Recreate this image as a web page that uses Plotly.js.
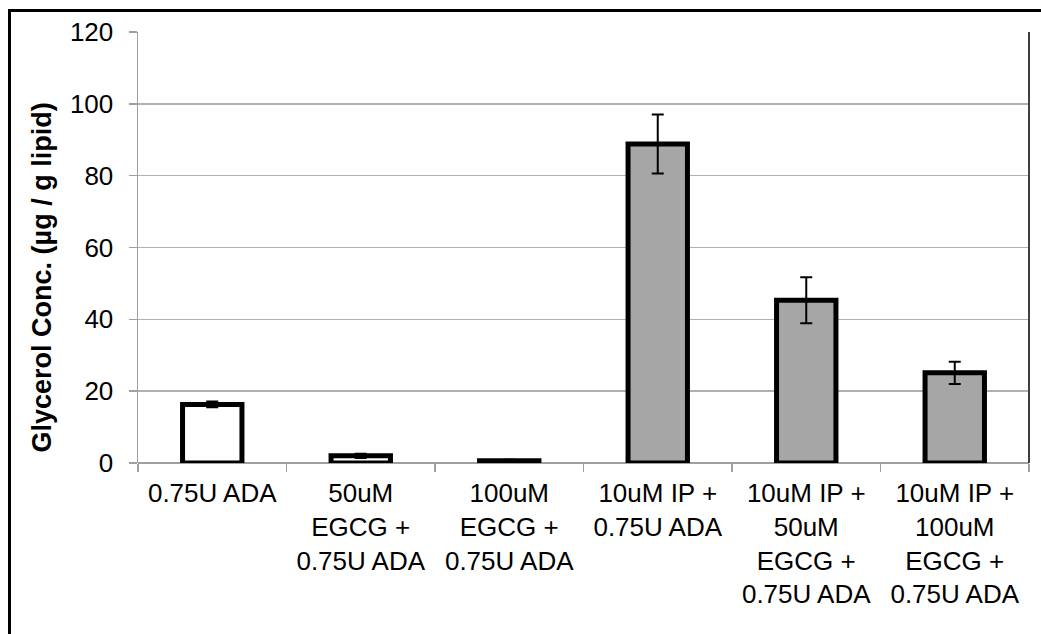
<!DOCTYPE html>
<html>
<head>
<meta charset="utf-8">
<script src="https://cdn.plot.ly/plotly-3.0.1.min.js"></script>
<style>
  html, body { margin: 0; padding: 0; background: #fff; }
  #wrap { position: relative; width: 1041px; height: 634px; overflow: hidden; }
  #chart { width: 1041px; height: 634px; }
  #frame { position: absolute; left: 8px; top: 9px; width: 1100px; height: 700px;
           border-left: 3px solid #000; border-top: 3px solid #000; pointer-events: none; }
</style>
</head>
<body>
<div id="wrap">
  <div id="chart"></div>
  <div id="frame"></div>
</div>
<script>
const categories = [
  "0.75U ADA",
  "50uM<br>EGCG +<br>0.75U ADA",
  "100uM<br>EGCG +<br>0.75U ADA",
  "10uM IP +<br>0.75U ADA",
  "10uM IP +<br>50uM<br>EGCG +<br>0.75U ADA",
  "10uM IP +<br>100uM<br>EGCG +<br>0.75U ADA"
];
const glycerol = [16.3, 2.0, 0.6, 88.8, 45.3, 25.1];
const errors = [0.8, 0.6, 0.3, 8.2, 6.4, 3.1];
const barColors = ["#ffffff", "#ffffff", "#ffffff", "#a6a6a6", "#a6a6a6", "#a6a6a6"];
const yTicks = [0, 20, 40, 60, 80, 100, 120];
const yTitle = "Glycerol Conc. (µg / g lipid)";

const trace = {
  type: "bar",
  x: categories,
  y: glycerol,
  marker: { color: barColors, line: { color: "#000", width: 5 } },
  error_y: { type: "data", array: errors, visible: true, color: "#000", thickness: 2, width: 6 },
  hoverinfo: "skip"
};

const layout = {
  width: 1041, height: 634,
  margin: { l: 138, r: 12, t: 32, b: 171 },
  paper_bgcolor: "#fff", plot_bgcolor: "#fff",
  bargap: 0.6,
  showlegend: false,
  font: { family: "Liberation Sans, Arial, sans-serif", color: "#000", size: 26 },
  xaxis: {
    type: "category",
    tickson: "boundaries",
    ticks: "outside", ticklen: 8, tickcolor: "#a0a0a0", tickwidth: 1.5,
    showline: false, showgrid: false, zeroline: false,
    tickfont: { size: 26 },
    ticklabelstandoff: 12
  },
  yaxis: {
    range: [0, 120],
    tickvals: yTicks,
    ticktext: yTicks.map(String),
    ticks: "outside", ticklen: 8, tickcolor: "#a0a0a0", tickwidth: 1.5,
    showline: true, linecolor: "#a0a0a0", linewidth: 1.5,
    showgrid: true, gridcolor: "#b0b0b0", gridwidth: 1.5,
    zeroline: true, zerolinecolor: "#a0a0a0", zerolinewidth: 1.5,
    tickfont: { size: 26 },
    ticklabelstandoff: 10
  },
  annotations: [
    { text: "<b>" + yTitle + "</b>", xref: "paper", yref: "paper",
      x: -0.108, y: 0.43, xanchor: "center", yanchor: "middle",
      textangle: -90, showarrow: false, font: { size: 27, color: "#000" } }
  ],
  shapes: [
    { type: "line", xref: "paper", yref: "paper", x0: 1, x1: 1, y0: 0, y1: 1,
      line: { color: "#404040", width: 2 } }
  ]
};

Plotly.newPlot("chart", [trace], layout, { displayModeBar: false, staticPlot: true });
</script>
</body>
</html>
